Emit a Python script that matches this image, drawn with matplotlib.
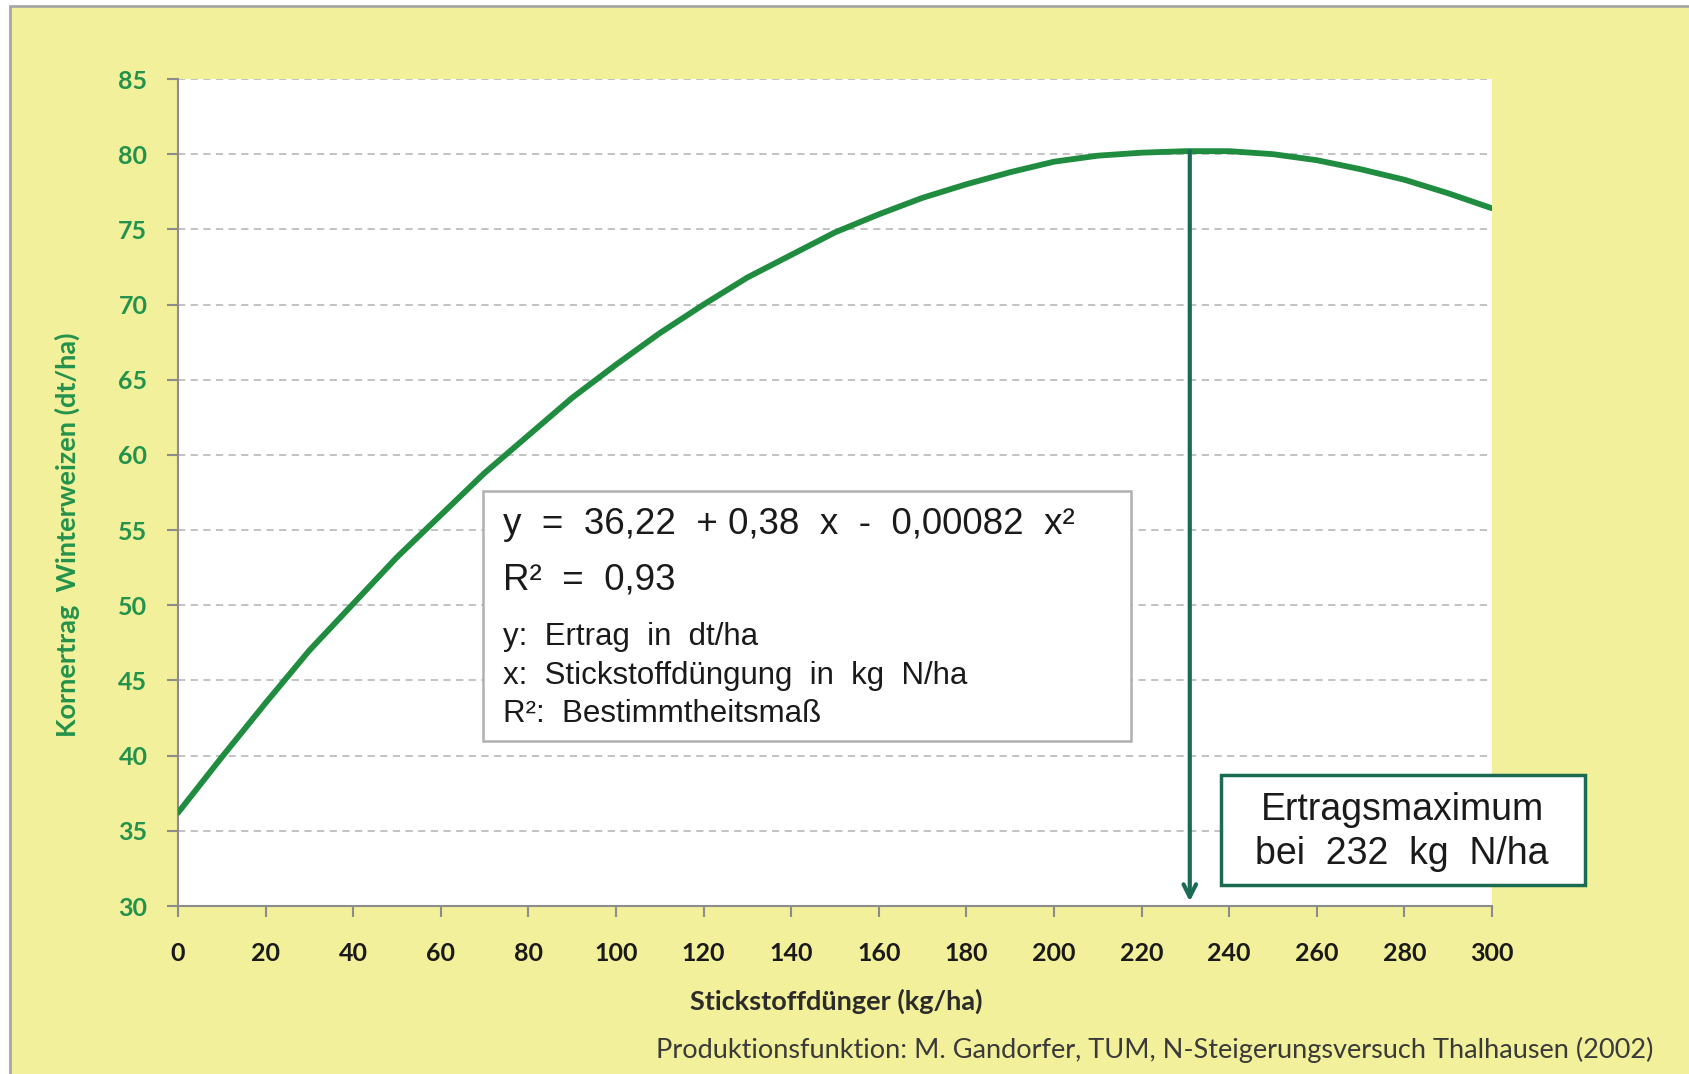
import matplotlib
matplotlib.use("Agg")
import matplotlib.pyplot as plt
from matplotlib.patches import Rectangle

# ---- data ----
n_fert = [0, 10, 20, 30, 40, 50, 60, 70, 80, 90, 100, 110, 120, 130, 140, 150,
          160, 170, 180, 190, 200, 210, 220, 230, 240, 250, 260, 270, 280, 290, 300]
yield_dt = [36.2, 39.9, 43.5, 47.0, 50.1, 53.2, 56.0, 58.8, 61.3, 63.8, 66.0, 68.1,
            70.0, 71.8, 73.3, 74.8, 76.0, 77.1, 78.0, 78.8, 79.5, 79.9, 80.1, 80.2,
            80.2, 80.0, 79.6, 79.0, 78.3, 77.4, 76.4]
x_ticks = list(range(0, 301, 20))
y_ticks = list(range(30, 86, 5))
max_x = 231
max_y = 80.2

YELLOW = "#f2f09a"
GREEN_LINE = "#1f8c3f"
GREEN_TXT = "#23924c"
TEAL = "#1b6b53"

fig = plt.figure(figsize=(16.89, 10.74), dpi=100)
fig.patch.set_facecolor("white")
fig.patches.append(Rectangle((10/1689, -0.05), 1.2, 1 - 6/1074 + 0.05,
                             transform=fig.transFigure, facecolor=YELLOW,
                             edgecolor="#a6a6a6", linewidth=2, zorder=-10))

ax = fig.add_axes([178/1689, 1 - 906/1074, (1492-178)/1689, (906-79)/1074])
ax.set_facecolor("white")
ax.set_xlim(0, 300)
ax.set_ylim(30, 85)
ax.set_xticks(x_ticks)
ax.set_yticks(y_ticks)
for s in ["top", "right"]:
    ax.spines[s].set_visible(False)
for s in ["left", "bottom"]:
    ax.spines[s].set_color("#8c8c8c")
    ax.spines[s].set_linewidth(1.5)
ax.tick_params(axis="both", direction="out", length=8, width=1.5, color="#8c8c8c")
ax.tick_params(axis="x", pad=18)
ax.tick_params(axis="y", pad=14)
ax.grid(axis="y", color="#bdbdbd", linestyle=(0, (4, 3)), linewidth=1.3)
ax.set_axisbelow(True)

for lab in ax.get_yticklabels():
    lab.set_fontfamily("Lato"); lab.set_fontweight("bold")
    lab.set_fontsize(18); lab.set_color(GREEN_TXT)
for lab in ax.get_xticklabels():
    lab.set_fontfamily("Lato"); lab.set_fontweight("bold")
    lab.set_fontsize(18); lab.set_color("#1a1a1a")

ax.plot(n_fert, yield_dt, color=GREEN_LINE, linewidth=4.2, solid_capstyle="round", zorder=3)

ax.annotate("", xy=(max_x, 30.3), xytext=(max_x, max_y),
            arrowprops=dict(arrowstyle="->,head_length=0.9,head_width=0.45",
                            color=TEAL, lw=3, shrinkA=0, shrinkB=0), zorder=4)

fig.text(67/1689, 1 - 535/1074, "Kornertrag  Winterweizen (dt/ha)", rotation=90,
         ha="center", va="center", fontfamily="Lato", fontweight="bold",
         fontsize=19.5, color=GREEN_TXT)
fig.text(836/1689, 1 - 1001/1074, "Stickstoffdünger (kg/ha)", ha="center", va="center",
         fontfamily="Lato", fontweight="bold", fontsize=19.5, color="#2b2b2b")
fig.text(1653/1689, 1 - 1050/1074,
         "Produktionsfunktion: M. Gandorfer, TUM, N-Steigerungsversuch Thalhausen (2002)",
         ha="right", va="center", fontfamily="Lato", fontsize=19.5, color="#3a3a3a")

# equation box
fig.patches.append(Rectangle((483/1689, 1 - 741/1074), (1131-483)/1689, (741-491)/1074,
                             transform=fig.transFigure, facecolor="white",
                             edgecolor="#b0b0b0", linewidth=1.8, zorder=5))
eq_font = "Liberation Sans"
fig.text(503/1689, 1 - 525/1074, "y  =  36,22  + 0,38  x  -  0,00082  x²",
         ha="left", va="center", fontfamily=eq_font, fontsize=26.5, color="#1a1a1a", zorder=6)
fig.text(503/1689, 1 - 580/1074, "R²  =  0,93", ha="left", va="center",
         fontfamily=eq_font, fontsize=26.5, color="#1a1a1a", zorder=6)
fig.text(503/1689, 1 - 637/1074, "y:  Ertrag  in  dt/ha", ha="left", va="center",
         fontfamily=eq_font, fontsize=22.5, color="#1a1a1a", zorder=6)
fig.text(503/1689, 1 - 676/1074, "x:  Stickstoffdüngung  in  kg  N/ha", ha="left", va="center",
         fontfamily=eq_font, fontsize=22.5, color="#1a1a1a", zorder=6)
fig.text(503/1689, 1 - 714/1074, "R²:  Bestimmtheitsmaß", ha="left", va="center",
         fontfamily=eq_font, fontsize=22.5, color="#1a1a1a", zorder=6)

# maximum box
fig.patches.append(Rectangle((1221/1689, 1 - 885/1074), (1585-1221)/1689, (885-775)/1074,
                             transform=fig.transFigure, facecolor="white",
                             edgecolor=TEAL, linewidth=2.5, zorder=5))
fig.text(1402/1689, 1 - 810/1074, "Ertragsmaximum", ha="center", va="center",
         fontfamily=eq_font, fontsize=27, color="#1a1a1a", zorder=6)
fig.text(1402/1689, 1 - 854/1074, f"bei  {max_x+1}  kg  N/ha", ha="center", va="center",
         fontfamily=eq_font, fontsize=27, color="#1a1a1a", zorder=6)

fig.savefig("out.png", dpi=100)
